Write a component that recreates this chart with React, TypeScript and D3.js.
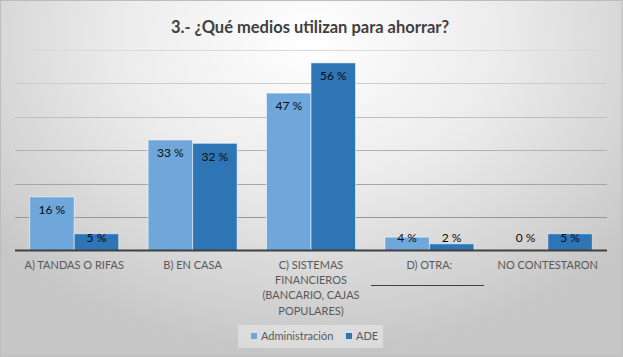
import React from "react";
import * as d3 from "d3";

const categories = [
  "A) TANDAS O RIFAS",
  "B) EN CASA",
  "C) SISTEMAS FINANCIEROS (BANCARIO, CAJAS POPULARES)",
  "D) OTRA:",
  "NO CONTESTARON",
];
const categoryLines = [
  ["A) TANDAS O RIFAS"],
  ["B) EN CASA"],
  ["C) SISTEMAS", "FINANCIEROS", "(BANCARIO, CAJAS", "POPULARES)"],
  ["D) OTRA:"],
  ["NO CONTESTARON"],
];
const seriesNames = ["Administración", "ADE"];
const administracion = [16, 33, 47, 4, 0];
const ade = [5, 32, 56, 2, 5];
const yTicks = [0, 10, 20, 30, 40, 50, 60];
const title = "3.- ¿Qué medios utilizan para ahorrar?";

const W = 623;
const H = 357;
const colors = ["#6fa7da", "#2e75b6"];
const FONT = "Lato, 'Open Sans', sans-serif";

export default function App() {
  const plotL = 15, plotR = 607, plotT = 49.5, plotB = 250.5;
  const x = d3.scaleBand<string>().domain(categories).range([plotL, plotR]).padding(0);
  const y = d3.scaleLinear().domain([0, 60]).range([plotB, plotT]);
  const bw = x.bandwidth();
  const pairW = bw * 0.752;
  const x1 = d3.scaleBand<string>().domain(seriesNames).range([0, pairW]).padding(0);
  const series = [administracion, ade];

  return (
    <svg width={W} height={H} style={{ position: "absolute", left: 0, top: 0 }} fontFamily={FONT}>
      <defs>
        <radialGradient id="bg" cx="311" cy="40" r="420" gradientUnits="userSpaceOnUse" gradientTransform="translate(311 40) scale(1 0.75) translate(-311 -40)">
          <stop offset="0" stopColor="#ffffff" />
          <stop offset="0.45" stopColor="#ececec" />
          <stop offset="1" stopColor="#c6c6c6" />
        </radialGradient>
        <linearGradient id="grid" gradientUnits="userSpaceOnUse" x1="0" y1={plotT} x2="0" y2={plotB}>
          <stop offset="0" stopColor="#dadada" />
          <stop offset="1" stopColor="#8a8a8a" />
        </linearGradient>
      </defs>
      <rect x={0} y={0} width={W} height={H} fill="url(#bg)" />
      <rect x={0.5} y={0.5} width={W - 1.5} height={H - 1.5} fill="none" stroke="#bdbdbd" strokeWidth={1} />
      <text x={310} y={33} textAnchor="middle" fontSize={16.5} fontWeight="bold" fill="#404040">{title}</text>
      {yTicks.filter((t) => t > 0).map((t) => (
        <line key={t} x1={plotL} x2={plotR} y1={Math.round(y(t)) + 0.5} y2={Math.round(y(t)) + 0.5} stroke="url(#grid)" strokeWidth={1} />
      ))}
      {categories.map((c, i) => (
        <g key={c} transform={`translate(${x(c)! + (bw - pairW) / 2},0)`}>
          {seriesNames.map((s, j) => {
            const v = series[j][i];
            const top = y(v);
            const ly = Math.min(top + 13, plotB - 13.3);
            return (
              <g key={s}>
                {v > 0 && (
                  <rect x={x1(s)!} y={top} width={x1.bandwidth()} height={plotB - top} fill={colors[j]} stroke="#ffffff" strokeOpacity={0.55} strokeWidth={1} />
                )}
                <text x={x1(s)! + x1.bandwidth() / 2} y={ly + 4.3} textAnchor="middle" fontSize={12} fill="#0a0a0a">{`${v} %`}</text>
              </g>
            );
          })}
        </g>
      ))}
      <line x1={plotL} x2={plotR} y1={plotB} y2={plotB} stroke="#404040" strokeWidth={2} />
      {categories.map((c, i) => (
        <g key={c}>
          {categoryLines[i].map((ln, k) => (
            <text key={k} x={x(c)! + bw / 2} y={269 + k * 15.2} textAnchor="middle" fontSize={11} fill="#595959">{ln}</text>
          ))}
        </g>
      ))}
      <line x1={371} x2={484} y1={285.5} y2={285.5} stroke="#404040" strokeWidth={1} />
      <rect x={238} y={325} width={145} height={23} fill="#f2f2f2" fillOpacity={0.45} />
      <rect x={251} y={333} width={6} height={6} fill={colors[0]} />
      <text x={261} y={340} fontSize={11} fill="#595959">{seriesNames[0]}</text>
      <rect x={346} y={333} width={6} height={6} fill={colors[1]} />
      <text x={356} y={340} fontSize={11} fill="#595959">{seriesNames[1]}</text>
    </svg>
  );
}
